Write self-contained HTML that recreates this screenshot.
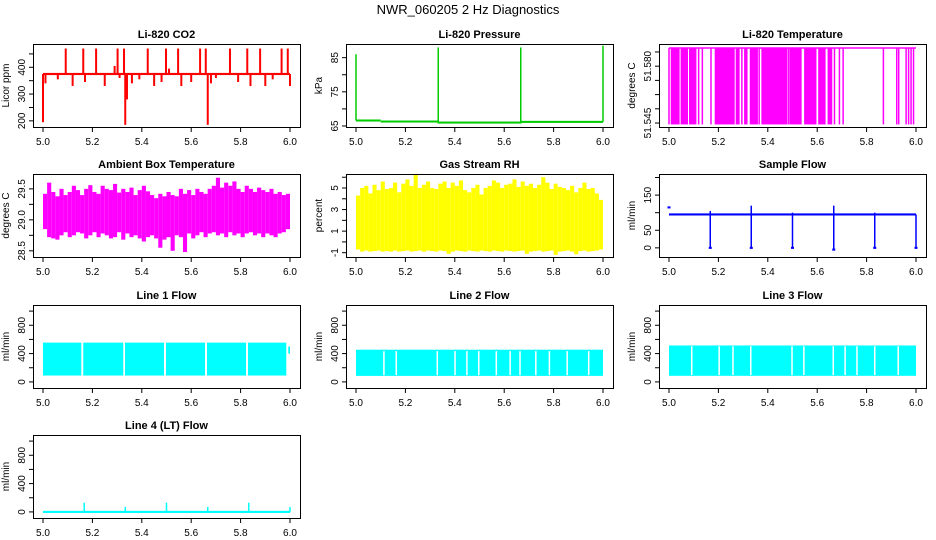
<!DOCTYPE html>
<html><head><meta charset="utf-8"><style>
html,body{margin:0;padding:0;background:#fff;width:936px;height:540px;overflow:hidden}
svg text{font-family:"Liberation Sans",sans-serif}
</style></head><body>
<svg id="c" width="936" height="540" xmlns="http://www.w3.org/2000/svg">
<text x="468" y="14" text-anchor="middle" font-size="13">NWR_060205  2 Hz Diagnostics</text>
</svg>
<script>
// ---- data ----
const xTicks=[5.0,5.2,5.4,5.6,5.8,6.0];
const co2Base=375;
const co2SpikeX=[5.0,5.01,5.06,5.092,5.12,5.163,5.17,5.215,5.25,5.29,5.302,5.31,5.328,5.333,5.34,5.36,5.39,5.424,5.45,5.48,5.498,5.51,5.547,5.56,5.6,5.636,5.659,5.667,5.68,5.7,5.757,5.79,5.827,5.84,5.879,5.9,5.93,5.966,5.991,6.0];
const co2SpikeV=[195,340,355,470,330,470,345,470,330,405,470,360,470,185,280,340,355,470,330,345,470,395,470,330,345,470,470,185,340,360,470,345,470,330,470,330,355,470,470,330];
const presBaseX=[5.0,5.1,5.33,5.67,6.0];
const presBaseV=[66.6,66.3,66.0,66.2,66.2];
const presSpikeX=[5.0,5.333,5.667,6.0];
const presSpikeV=[86,88,88,88.5];
const tempHigh=51.5714, tempLow=51.5445;
const tempBandStart=[5.007,5.047,5.081,5.185,5.27,5.304,5.327,5.374,5.489,5.547,5.604,5.642];
const tempBandEnd=[5.043,5.077,5.111,5.266,5.286,5.318,5.36,5.48,5.537,5.597,5.634,5.661];
const tempLineX=[5.0,5.12,5.135,5.17,5.295,5.365,5.485,5.67,5.69,5.705,5.868,5.922,5.93,5.96,5.97,5.98,5.99];
const ambMax=[29.42,29.6,29.45,29.38,29.5,29.4,29.45,29.55,29.48,29.4,29.5,29.56,29.45,29.42,29.55,29.5,29.48,29.58,29.44,29.5,29.45,29.52,29.4,29.48,29.55,29.46,29.4,29.35,29.42,29.38,29.45,29.4,29.38,29.5,29.42,29.48,29.4,29.5,29.45,29.42,29.5,29.55,29.68,29.52,29.6,29.55,29.62,29.5,29.45,29.55,29.5,29.45,29.52,29.48,29.45,29.5,29.42,29.45,29.4,29.42];
const ambMin=[28.85,28.72,28.7,28.68,28.75,28.8,28.72,28.75,28.8,28.78,28.7,28.75,28.8,28.72,28.78,28.75,28.7,28.72,28.8,28.68,28.78,28.72,28.75,28.7,28.65,28.72,28.75,28.7,28.55,28.68,28.72,28.5,28.75,28.72,28.48,28.78,28.7,28.75,28.8,28.72,28.78,28.8,28.75,28.78,28.72,28.8,28.75,28.78,28.72,28.78,28.8,28.75,28.78,28.72,28.78,28.75,28.72,28.78,28.8,28.85];
const rhMax=[4.3,5.0,5.2,4.5,5.3,4.8,5.6,4.9,5.0,5.5,4.6,5.4,5.8,5.2,6.2,5.0,5.3,5.6,5.0,4.9,5.4,5.6,5.0,5.5,5.2,5.7,4.8,4.6,5.0,5.3,4.4,5.0,5.2,5.7,5.5,5.0,5.3,5.4,5.8,5.1,5.6,5.2,5.4,5.0,5.3,6.0,5.5,4.9,5.4,5.1,5.0,4.8,5.2,4.6,5.0,5.5,4.9,5.0,4.5,3.9];
const rhMin=[-0.7,-0.9,-0.8,-0.9,-0.85,-0.8,-0.9,-0.85,-0.9,-0.8,-0.9,-0.85,-0.8,-0.9,-0.85,-0.8,-0.9,-0.8,-0.85,-0.9,-0.8,-0.85,-1.1,-0.9,-0.8,-0.85,-0.9,-0.8,-0.85,-0.9,-0.8,-0.85,-0.9,-0.8,-0.85,-0.9,-0.8,-0.85,-0.9,-0.85,-0.8,-1.1,-0.9,-0.85,-0.8,-0.9,-0.85,-0.8,-1.2,-0.9,-0.85,-0.8,-0.9,-1.15,-0.85,-0.8,-0.9,-0.85,-0.8,-0.7];
const flowBandLo=92, flowBandHi=98;
const flowDropX=[5.0,5.167,5.333,5.5,5.667,5.833,6.0];
const flowDropV=[115,0,0,0,-5,0,0];
const flowSpikeV=[115,105,120,100,120,100,95];
const line1Lo=90,line1Hi=555;
const line1Start=[5.0,5.163,5.332,5.498,5.664,5.83];
const line1End=[5.155,5.325,5.49,5.656,5.822,5.985];
const line2Lo=85,line2Hi=455;
const line2Gaps=[5.11,5.16,5.326,5.398,5.446,5.494,5.565,5.621,5.661,5.725,5.78,5.852,5.939];
const line3Lo=86,line3Hi=514;
const line3Gaps=[5.089,5.2,5.256,5.328,5.495,5.543,5.662,5.71,5.758,5.83,5.925];
const line4Base=0;
const line4SpikeX=[5.167,5.333,5.5,5.667,5.833,6.0];
const line4SpikeV=[130,70,130,70,130,70];

// ---- layout ----
const NS='http://www.w3.org/2000/svg';
const svg=document.getElementById('c');
const colL=[33,346,659], rowT=[44,174,305,435], W=267, H=83;
function el(t,a,p){const e=document.createElementNS(NS,t);for(const k in a)e.setAttribute(k,a[k]);(p||svg).appendChild(e);return e;}
function panel(ci,ri,title,ylab,ymin,ymax,ticks,labels,slug){
  const L=colL[ci],T=rowT[ri];
  const g=el('g',{});
  
  
  const xs=v=>L+10+(v-5)*(W-20);
  const ys=v=>T+H-(v-ymin)/(ymax-ymin)*H;
  const t=el('text',{x:L+W/2,y:T-6,'text-anchor':'middle','font-size':'11','font-weight':'bold'},g);t.textContent=title;
  
  const plot=el('g',{},g);
  
  const ax=el('g',{stroke:'#000','stroke-width':'1',fill:'none'},g);
  
  el('rect',{x:L+.5,y:T+.5,width:W,height:H},ax);
  xTicks.forEach(v=>{el('line',{x1:xs(v),x2:xs(v),y1:T+H,y2:T+H+5},ax);
    const tx=el('text',{x:xs(v),y:T+H+18,'text-anchor':'middle','font-size':'10',fill:'#000',stroke:'none'},g);tx.textContent=v.toFixed(1);
    });
  ticks.forEach((v,i)=>{const y=ys(v);el('line',{x1:L-4,x2:L,y1:y,y2:y},ax);
    if(labels[i]){const ty=el('text',{x:L-8,y:y,'text-anchor':'middle','font-size':'10',transform:`rotate(-90 ${L-8} ${y})`},g);ty.textContent=labels[i];
      }});
  const yt=el('text',{x:L-24,y:T+H/2,'text-anchor':'middle','font-size':'10',transform:`rotate(-90 ${L-24} ${T+H/2})`},g);yt.textContent=ylab;
  
  return {xs,ys,plot};
}
function vline(p,x,y1,y2,c,w){el('line',{x1:x,x2:x,y1:y1,y2:y2,stroke:c,'stroke-width':w||1},p);}
function rect(p,x1,x2,y1,y2,c){el('rect',{x:Math.min(x1,x2),y:Math.min(y1,y2),width:Math.max(1,Math.abs(x2-x1)),height:Math.max(1,Math.abs(y2-y1)),fill:c},p);}

// CO2
let P=panel(0,0,'Li-820 CO2','Licor ppm',177,487,[200,250,300,350,400,450],['200','','300','','400',''],'co2');
rect(P.plot,P.xs(5.0),P.xs(6.0),P.ys(co2Base+4),P.ys(co2Base-4),'#f00');
co2SpikeX.forEach((x,i)=>vline(P.plot,P.xs(x),P.ys(co2Base),P.ys(co2SpikeV[i]),'#f00',2));
// Pressure
P=panel(1,0,'Li-820 Pressure','kPa',64.7,89,[65,70,75,80,85],['65','','75','','85'],'pressure');
for(let i=0;i<presBaseX.length-1;i++)rect(P.plot,P.xs(presBaseX[i]),P.xs(presBaseX[i+1]),P.ys(presBaseV[i]+.3),P.ys(presBaseV[i]-.3),'#0c0');
presSpikeX.forEach((x,i)=>vline(P.plot,P.xs(x),P.ys(presBaseV[i]||66.2),P.ys(presSpikeV[i]),'#0c0',1.5));
// Temperature
P=panel(2,0,'Li-820 Temperature','degrees C',51.5436,51.5728,[51.545,51.55,51.555,51.56,51.565,51.57],['51.545','','','','51.580',''],'li820-temperature');
el('line',{x1:P.xs(5.0),x2:P.xs(6.0),y1:P.ys(tempHigh),y2:P.ys(tempHigh),stroke:'#f0f','stroke-width':1.5},P.plot);
tempBandStart.forEach((s,i)=>rect(P.plot,P.xs(s),P.xs(tempBandEnd[i]),P.ys(tempHigh),P.ys(tempLow),'#f0f'));
tempLineX.forEach(x=>vline(P.plot,P.xs(x),P.ys(tempHigh),P.ys(tempLow),'#f0f',1.5));
// Ambient
P=panel(0,1,'Ambient Box Temperature','degrees C',28.40,29.74,[28.5,28.75,29.0,29.25,29.5],['28.5','','29.0','','29.5'],'ambient-temperature');
{const n=ambMax.length,bw=1/n;ambMax.forEach((v,i)=>rect(P.plot,P.xs(5+i*bw),P.xs(5+(i+1)*bw),P.ys(v),P.ys(ambMin[i]),'#f0f'));}
// RH
P=panel(1,1,'Gas Stream RH','percent',-1.4,6.3,[-1,0,1,2,3,4,5,6],['-1','','1','','3','','5',''],'gas-stream-rh');
{const n=rhMax.length,bw=1/n;rhMax.forEach((v,i)=>rect(P.plot,P.xs(5+i*bw),P.xs(5+(i+1)*bw),P.ys(v),P.ys(rhMin[i]),'#ff0'));}
// Sample flow
P=panel(2,1,'Sample Flow','ml/min',-26,210,[0,50,100,150,200],['0','50','','150',''],'sample-flow');
rect(P.plot,P.xs(5.0),P.xs(6.0),P.ys(flowBandHi),P.ys(flowBandLo),'#00f');
flowDropX.forEach((x,i)=>{vline(P.plot,P.xs(x),P.ys(flowSpikeV[i]),P.ys(flowDropV[i]),'#00f',1.5);rect(P.plot,P.xs(x)-1.5,P.xs(x)+1.5,P.ys(flowDropV[i]+3),P.ys(flowDropV[i]-3),'#00f');});
// Line flows
const fT=[0,200,400,600,800,1000],fL=['0','','400','','800',''];
P=panel(0,2,'Line 1 Flow','ml/min',-86,1086,fT,fL,'line1-flow');
line1Start.forEach((s,i)=>rect(P.plot,P.xs(s),P.xs(line1End[i]),P.ys(line1Hi),P.ys(line1Lo),'#0ff'));
rect(P.plot,P.xs(5.993),P.xs(6.0),P.ys(500),P.ys(400),'#0ff');
P=panel(1,2,'Line 2 Flow','ml/min',-86,1086,fT,fL,'line2-flow');
rect(P.plot,P.xs(5.0),P.xs(6.0),P.ys(line2Hi),P.ys(line2Lo),'#0ff');
line2Gaps.forEach(x=>rect(P.plot,P.xs(x),P.xs(x)+1.5,P.ys(line2Hi-20),P.ys(line2Lo+10),'#fff'));
P=panel(2,2,'Line 3 Flow','ml/min',-86,1086,fT,fL,'line3-flow');
rect(P.plot,P.xs(5.0),P.xs(6.0),P.ys(line3Hi),P.ys(line3Lo),'#0ff');
line3Gaps.forEach(x=>rect(P.plot,P.xs(x),P.xs(x)+1.5,P.ys(line3Hi-10),P.ys(line3Lo+10),'#fff'));
P=panel(0,3,'Line 4 (LT) Flow','ml/min',-86,1086,fT,fL,'line4-flow');
rect(P.plot,P.xs(5.0),P.xs(6.0),P.ys(line4Base+15),P.ys(line4Base-15),'#0ff');
line4SpikeX.forEach((x,i)=>vline(P.plot,P.xs(x),P.ys(line4Base),P.ys(line4SpikeV[i]),'#0ff',1.5));
</script>
</body></html>
